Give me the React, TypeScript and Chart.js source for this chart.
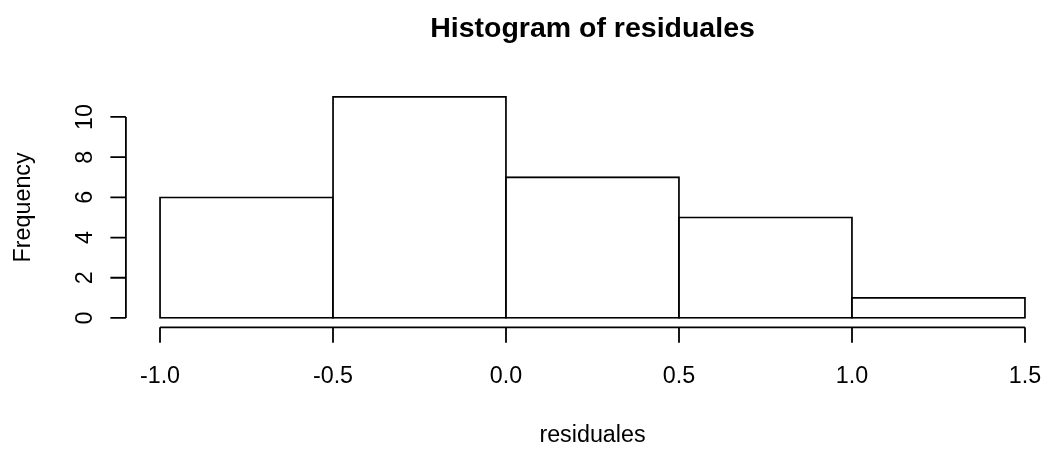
import React, { useEffect, useRef } from "react";
import { Chart, registerables } from "chart.js";

Chart.register(...registerables);

// Histogram data
const breaks = [-1.0, -0.5, 0.0, 0.5, 1.0, 1.5];
const counts = [6, 11, 7, 5, 1];
const yTicks = [0, 2, 4, 6, 8, 10];
const xTickLabels = ["-1.0", "-0.5", "0.0", "0.5", "1.0", "1.5"];
const titleText = "Histogram of residuales";
const xLabelText = "residuales";
const yLabelText = "Frequency";

const FONT = "'Liberation Sans', Arial, sans-serif";
const LW = 1.8;

const axesPlugin = {
  id: "rAxes",
  afterDraw(chart: any) {
    const { ctx, chartArea } = chart;
    const x = chart.scales.x;
    const y = chart.scales.y;
    ctx.save();
    ctx.strokeStyle = "#000";
    ctx.fillStyle = "#000";
    ctx.lineWidth = LW;

    // x axis
    const axY = chartArea.bottom + 0.5;
    const x0 = x.getPixelForValue(breaks[0]);
    const x1 = x.getPixelForValue(breaks[breaks.length - 1]);
    ctx.beginPath();
    ctx.moveTo(x0, axY);
    ctx.lineTo(x1, axY);
    breaks.forEach((b) => {
      const px = x.getPixelForValue(b);
      ctx.moveTo(px, axY);
      ctx.lineTo(px, axY + 15.5);
    });
    ctx.stroke();
    ctx.font = `23.3px ${FONT}`;
    ctx.textAlign = "center";
    ctx.textBaseline = "alphabetic";
    breaks.forEach((b, i) => {
      ctx.fillText(xTickLabels[i], x.getPixelForValue(b), 383);
    });

    // y axis
    const axX = chartArea.left + 0.5;
    const yA = y.getPixelForValue(yTicks[0]);
    const yB = y.getPixelForValue(yTicks[yTicks.length - 1]);
    ctx.beginPath();
    ctx.moveTo(axX, yA);
    ctx.lineTo(axX, yB);
    yTicks.forEach((t) => {
      const py = y.getPixelForValue(t);
      ctx.moveTo(axX, py);
      ctx.lineTo(axX - 15.5, py);
    });
    ctx.stroke();
    yTicks.forEach((t) => {
      const py = y.getPixelForValue(t);
      ctx.save();
      ctx.translate(91.5, py);
      ctx.rotate(-Math.PI / 2);
      ctx.textAlign = "center";
      ctx.textBaseline = "alphabetic";
      ctx.fillText(String(t), 0, 0);
      ctx.restore();
    });

    // axis titles
    const cx = x.getPixelForValue((breaks[0] + breaks[breaks.length - 1]) / 2);
    ctx.textAlign = "center";
    ctx.fillText(xLabelText, cx, 441.7);
    ctx.save();
    ctx.translate(30, y.getPixelForValue(5.5));
    ctx.rotate(-Math.PI / 2);
    ctx.fillText(yLabelText, 0, 0);
    ctx.restore();

    // main title
    ctx.font = `bold 28.5px ${FONT}`;
    ctx.fillText(titleText, cx, 36.7);
    ctx.restore();
  },
};

export default function App() {
  const ref = useRef<HTMLCanvasElement | null>(null);
  useEffect(() => {
    if (!ref.current) return;
    const mids = counts.map((_, i) => (breaks[i] + breaks[i + 1]) / 2);
    const chart = new Chart(ref.current, {
      type: "bar",
      data: {
        datasets: [
          {
            data: counts.map((c, i) => ({ x: mids[i], y: c })),
            backgroundColor: "#ffffff",
            borderColor: "#000000",
            borderWidth: LW,
            borderSkipped: false,
            inflateAmount: LW / 2,
            barPercentage: 1,
            categoryPercentage: 1,
          } as any,
        ],
      },
      options: {
        animation: false,
        responsive: false,
        devicePixelRatio: 1,
        events: [],
        layout: { padding: { left: 125.4, right: 0, top: 88, bottom: 123.2 } },
        plugins: { legend: { display: false }, tooltip: { enabled: false }, title: { display: false } },
        scales: {
          x: {
            type: "linear",
            display: false,
            offset: false,
            min: -1.1,
            max: -1.1 + (1045 - 125.4) / 346,
            afterBuildTicks: (scale: any) => {
              scale.ticks = breaks.map((v) => ({ value: v }));
            },
          },
          y: {
            type: "linear",
            display: false,
            min: -0.44,
            max: 11.44,
          },
        },
      },
      plugins: [axesPlugin],
    });
    return () => chart.destroy();
  }, []);
  return (
    <canvas
      ref={ref}
      width={1045}
      height={450}
      style={{ position: "fixed", left: 0, top: 0, display: "block", background: "#fff" }}
    />
  );
}
